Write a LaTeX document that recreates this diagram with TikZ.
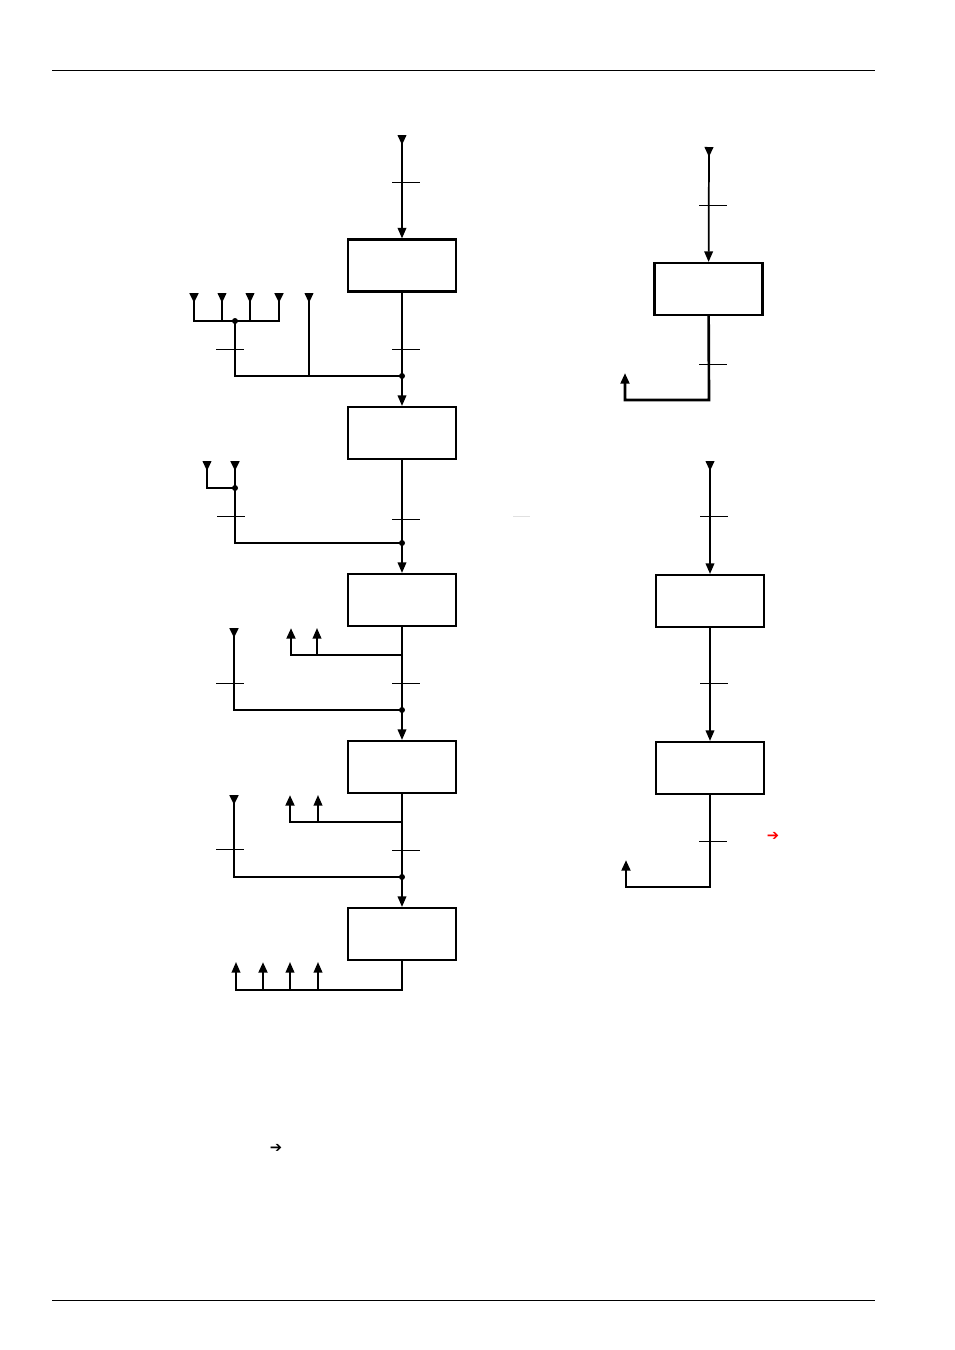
\documentclass[tikz,border=0pt]{standalone}
\usepackage{fontspec}
\newfontfamily\symfont{DejaVu Sans}
\usetikzlibrary{arrows.meta, positioning}
\tikzset{ftip/.tip={Triangle[length=8pt,width=6.5pt]}, rtip/.tip={Triangle[reversed,length=7.5pt,width=6.5pt]},
	>=ftip, inarr/.style={rtip-}, thru/.style={rtip-ftip},
	blk/.style={draw, line width=1.6pt, minimum width=81pt, minimum height=39pt, inner sep=0pt},
	wire/.style={line width=1.3pt}, bus/.style={line width=2pt}, tick/.style={line width=0.6pt},
	dot/.style={circle, fill, inner sep=0pt, minimum size=4.5pt}}
\begin{document}
\begin{tikzpicture}[x=0.75pt, y=-0.75pt]
	\useasboundingbox (0,0) rectangle (954,1350);
	\draw[line width=0.6pt] (52,70) -- (875,70);
	\draw[line width=0.6pt] (52,1300) -- (875,1300);
	% left chain
	\node[blk] at (402,265.5) (B1) {};
	\node[blk] at (402,433) (B2) {};
	\node[blk] at (402,600) (B3) {};
	\node[blk] at (402,767) (B4) {};
	\node[blk] at (402,934) (B5) {};
	\coordinate (in1) at (402,135);
	\coordinate (j1) at (402,376);
	\coordinate (j2) at (402,543);
	\coordinate (j3) at (402,710);
	\coordinate (j4) at (402,877);
	\draw[wire, thru] (in1) -- (B1);
	\draw[wire, ->] (B1) -- (B2);
	\draw[wire, ->] (B2) -- (B3);
	\draw[wire, ->] (B3) -- (B4);
	\draw[wire, ->] (B4) -- (B5);
	\foreach \y in {182,349,519,683,850} \draw[tick] (392,\y) -- (420,\y);
	% group 1
	\coordinate (g1 a) at (194,293);
	\coordinate (g1 b) at (222,293);
	\coordinate (g1 c) at (250,293);
	\coordinate (g1 d) at (279,293);
	\coordinate (g1 e) at (309,293);
	\coordinate (g1) at (235,321);
	\draw[bus, rtip-rtip] (g1 a) -- (g1 a |- g1) -- (g1 d |- g1) -- (g1 d);
	\draw[wire, inarr] (g1 b) -- (g1 b |- g1);
	\draw[wire, inarr] (g1 c) -- (g1 c |- g1);
	\draw[wire, inarr] (g1 e) -- (g1 e |- j1);
	\draw[wire] (g1) |- (j1);
	\draw[tick] (216,349) -- (244,349);
	% group 2
	\coordinate (g2 a) at (207,461);
	\coordinate (g2 b) at (235,461);
	\coordinate (g2) at (235,488);
	\draw[wire, inarr] (g2 a) |- (g2);
	\draw[bus, inarr] (g2 b) -- (g2) |- (j2);
	\draw[tick] (217,516) -- (245,516);
	\draw[line width=0.5pt, black!12] (513,516) -- (530,516);
	% group 3
	\coordinate (o3) at (402,655);
	\coordinate (g3 a) at (291,628);
	\coordinate (g3 b) at (317,628);
	\coordinate (g3 in) at (234,628);
	\draw[bus, ->] (o3) -| (g3 a);
	\draw[wire, ->] (g3 b |- o3) -- (g3 b);
	\draw[bus, inarr] (g3 in) |- (j3);
	\draw[tick] (216,683) -- (244,683);
	% group 4
	\coordinate (o4) at (402,822);
	\coordinate (g4 a) at (290,795);
	\coordinate (g4 b) at (318,795);
	\coordinate (g4 in) at (234,795);
	\draw[bus, ->] (o4) -| (g4 a);
	\draw[wire, ->] (g4 b |- o4) -- (g4 b);
	\draw[bus, inarr] (g4 in) |- (j4);
	\draw[tick] (216,849) -- (244,849);
	% group 5
	\coordinate (o5) at (402,990);
	\coordinate (g5 a) at (236,962);
	\coordinate (g5 b) at (263,962);
	\coordinate (g5 c) at (290,962);
	\coordinate (g5 d) at (318,962);
	\draw[wire, ->] (B5) -- (o5) -| (g5 a);
	\draw[bus, ->] (g5 b |- o5) -- (g5 b);
	\draw[wire, ->] (g5 c |- o5) -- (g5 c);
	\draw[wire, ->] (g5 d |- o5) -- (g5 d);
	% junction dots
	\foreach \p in {j1,j2,j3,j4,g1,g2} \node[dot] at (\p) {};
	% right column
	\node[blk] at (708.5,289) (BA) {};
	\node[blk] at (710,601) (BB) {};
	\node[blk] at (710,768) (BC) {};
	\coordinate (inA) at (709,147);
	\coordinate (cA) at (709,400);
	\coordinate (outA) at (625,373);
	\draw[wire, thru] (inA) -- (BA);
	\draw[bus, ->] (BA) -- (cA) -| (outA);
	\draw[tick] (699,205) -- (727,205);
	\draw[tick] (699,364) -- (727,364);
	\coordinate (inB) at (710,461);
	\coordinate (cC) at (710,887);
	\coordinate (outC) at (626,860);
	\draw[wire, thru] (inB) -- (BB);
	\draw[wire, ->] (BB) -- (BC);
	\draw[bus, ->] (BC) -- (cC) -| (outC);
	\draw[tick] (700,516) -- (728,516);
	\draw[tick] (700,683) -- (728,683);
	\draw[tick] (699,841) -- (727,841);
	\node[text=red, font=\symfont\bfseries\fontsize{11}{11}\selectfont] at (773,836) (mark r) {➔};
	\node[font=\symfont\bfseries\fontsize{11}{11}\selectfont] at (276,1148) (mark b) {➔};
\end{tikzpicture}
\end{document}
